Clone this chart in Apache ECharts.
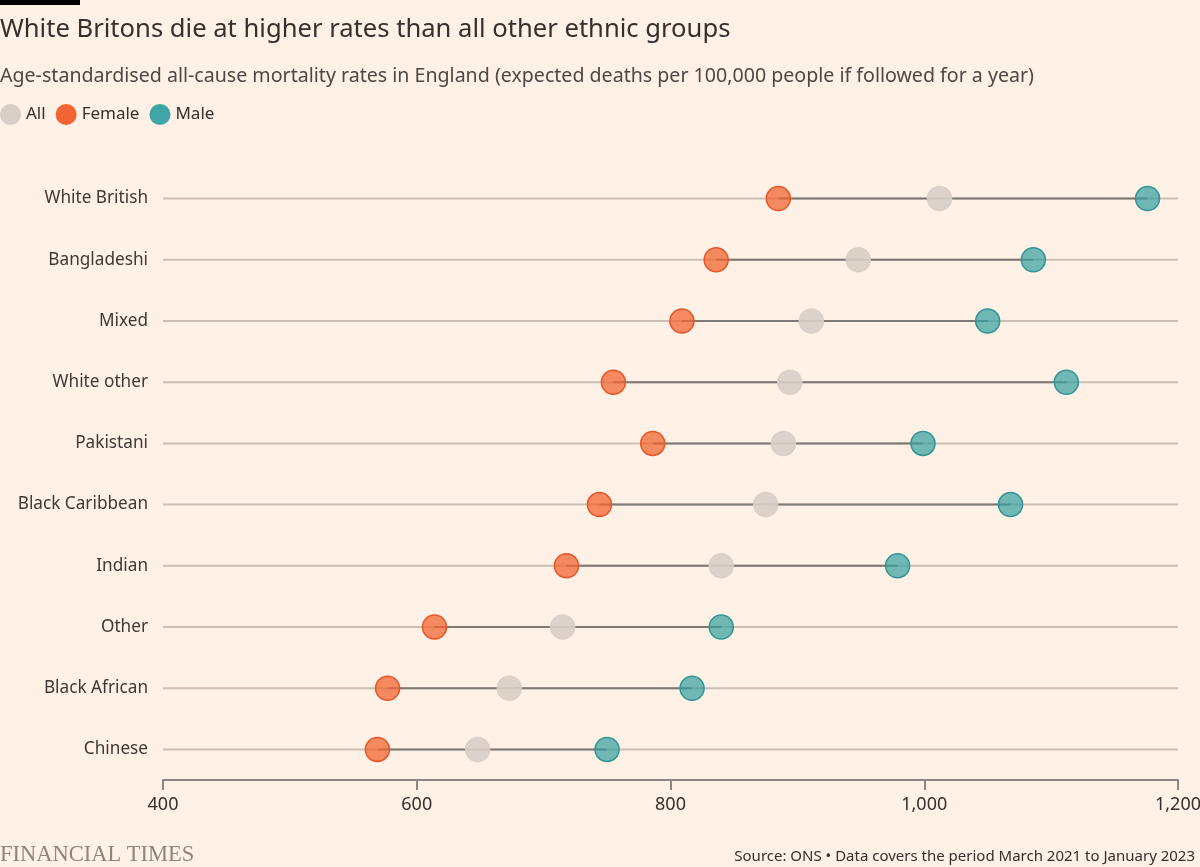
<!DOCTYPE html>
<html>
<head>
<meta charset="utf-8">
<script src="https://cdn.jsdelivr.net/npm/echarts@6/dist/echarts.min.js"></script>
<style>
html, body { margin: 0; padding: 0; background: #fff1e5; }
#chart { width: 1200px; height: 867px; }
</style>
</head>
<body>
<div id="chart"></div>
<script>
// 数据
var groups = ['White British', 'Bangladeshi', 'Mixed', 'White other', 'Pakistani',
    'Black Caribbean', 'Indian', 'Other', 'Black African', 'Chinese'];
var allRates = [1012, 948, 911, 894, 889, 875, 840, 715, 673, 648];
var femaleRates = [885, 836, 809, 755, 786, 744, 718, 614, 577, 569];
var maleRates = [1176, 1086, 1050, 1112, 999, 1068, 979, 840, 817, 750];
var xTicks = [400, 600, 800, 1000, 1200];

var fontFamily = '"Noto Sans", sans-serif';

function dotSeries(name, values, fill, stroke) {
    return {
        name: name,
        type: 'scatter',
        symbolSize: 24,
        z: 5,
        itemStyle: {
            color: fill,
            borderColor: stroke,
            borderWidth: 1.5,
            opacity: 1
        },
        data: values.map(function (v, i) { return [v, groups[i]]; })
    };
}

var myChart = echarts.init(document.getElementById('chart'));
var option = {
    backgroundColor: '#fff1e5',
    animation: false,
    textStyle: { fontFamily: fontFamily },
    title: [{
        text: 'White Britons die at higher rates than all other ethnic groups',
        left: 0,
        top: 17,
        padding: 0,
        textStyle: { fontFamily: fontFamily, fontSize: 25.6, fontWeight: 'normal', color: '#33302e' }
    }, {
        text: 'Age-standardised all-cause mortality rates in England (expected deaths per 100,000 people if followed for a year)',
        left: 0,
        top: 66,
        padding: 0,
        textStyle: { fontFamily: fontFamily, fontSize: 19.6, fontWeight: 'normal', color: '#4d4845' }
    }],
    legend: {
        left: 0,
        top: 104,
        padding: 0,
        itemGap: 10,
        itemWidth: 21,
        itemHeight: 21,
        icon: 'circle',
        textStyle: { fontFamily: fontFamily, fontSize: 17, color: '#33302e' },
        data: [
            { name: 'All', itemStyle: { color: '#d9cec5', borderWidth: 0 } },
            { name: 'Female', itemStyle: { color: '#f26532', borderWidth: 0 } },
            { name: 'Male', itemStyle: { color: '#3fa6a8', borderWidth: 0 } }
        ]
    },
    graphic: [{
        type: 'rect',
        left: 0,
        top: 0,
        shape: { width: 80, height: 5 },
        style: { fill: '#000000' }
    }, {
        type: 'text',
        left: 0,
        top: 844,
        style: {
            text: 'FINANCIAL TIMES',
            font: '22.5px "Liberation Serif", serif',
            fill: '#8f857c'
        }
    }, {
        type: 'text',
        right: 5,
        top: 849,
        style: {
            text: 'Source: ONS \u2022 Data covers the period March 2021 to January 2023',
            font: '15px ' + fontFamily,
            fill: '#33302e'
        }
    }],
    grid: {
        left: 163,
        right: 22,
        top: 168,
        height: 612,
        outerBoundsMode: 'none'
    },
    xAxis: {
        type: 'value',
        min: 400,
        max: 1200,
        interval: 200,
        axisLine: { show: true, lineStyle: { color: '#8c8580', width: 2 } },
        axisTick: { show: true, length: 10, lineStyle: { color: '#8c8580', width: 2 } },
        splitLine: { show: false },
        axisLabel: {
            color: '#33302e',
            fontSize: 18,
            margin: 16,
            formatter: function (v) {
                return xTicks.indexOf(v) >= 0 ? v.toLocaleString('en-GB') : '';
            }
        }
    },
    yAxis: {
        type: 'category',
        inverse: true,
        data: groups,
        axisLine: { show: false },
        axisTick: { show: false },
        splitLine: { show: false },
        axisLabel: { color: '#3d3935', fontSize: 17.2, margin: 15, padding: [3, 0, 0, 0] }
    },
    series: [{
        name: 'lines',
        type: 'custom',
        z: 1,
        renderItem: function (params, api) {
            var cat = api.value(0);
            var lo = api.value(1);
            var hi = api.value(2);
            var a = api.coord([400, cat]);
            var b = api.coord([1200, cat]);
            var c = api.coord([lo, cat]);
            var d = api.coord([hi, cat]);
            return {
                type: 'group',
                children: [{
                    type: 'line',
                    shape: { x1: a[0], y1: a[1], x2: b[0], y2: b[1] },
                    style: { stroke: '#cbbfb5', lineWidth: 2 }
                }, {
                    type: 'line',
                    shape: { x1: c[0], y1: c[1], x2: d[0], y2: d[1] },
                    style: { stroke: '#7f7974', lineWidth: 2 }
                }]
            };
        },
        encode: { x: [1, 2], y: 0 },
        data: groups.map(function (g, i) {
            var vals = [allRates[i], femaleRates[i], maleRates[i]];
            return [i, Math.min.apply(null, vals), Math.max.apply(null, vals)];
        })
    },
        dotSeries('All', allRates, 'rgba(217,206,197,0.9)', 'rgba(217,206,197,0.9)'),
        dotSeries('Female', femaleRates, 'rgba(242,101,50,0.75)', '#e8552a'),
        dotSeries('Male', maleRates, 'rgba(52,158,160,0.7)', '#2f9597')
    ]
};
myChart.clear();
myChart.setOption(option);
</script>
</body>
</html>
